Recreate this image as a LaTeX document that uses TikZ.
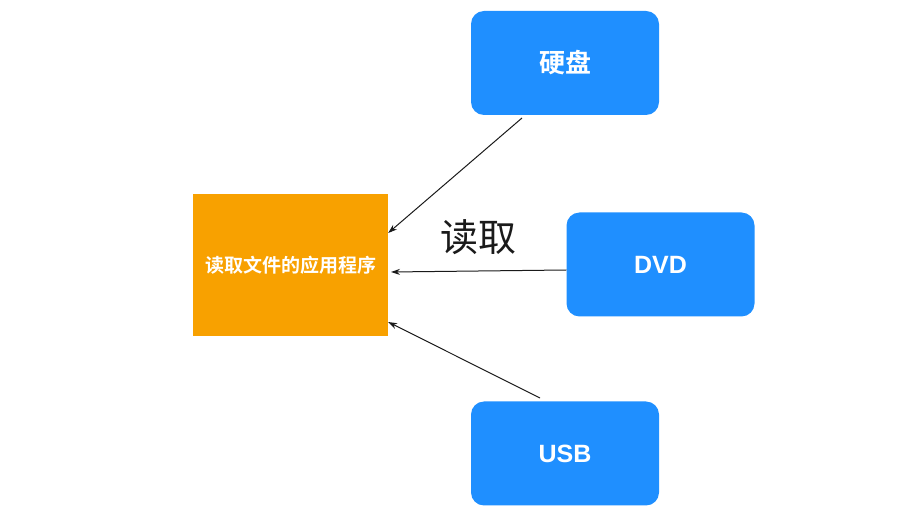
\documentclass[tikz,border=0pt]{standalone}
\usepackage{fontspec}
\setmainfont{Liberation Sans}
\newfontfamily\cjk{Noto Sans CJK SC}
\newfontfamily\cjkb{Noto Sans CJK SC Bold}
\usetikzlibrary{arrows.meta}
\definecolor{boxblue}{HTML}{1F8FFF}
\definecolor{boxorange}{HTML}{F8A100}
\definecolor{txtdark}{HTML}{1A1A1A}
\begin{document}
\begin{tikzpicture}[x=1pt,y=-1pt,
  bluebox/.style={fill=boxblue,draw=none,rounded corners=13pt,minimum width=188pt,minimum height=104pt,text=white,inner sep=0pt},
  conn/.style={draw=txtdark,line width=1pt,-{Stealth[length=9pt,width=6pt]}}]
\useasboundingbox (0,0) rectangle (911,526);
\node[fill=boxorange,minimum width=195pt,minimum height=142pt,inner sep=0pt,text=white,font=\cjkb\fontsize{19}{21}\selectfont] (app) at (290.5,265) {读取文件的应用程序};
\node[bluebox,font=\cjkb\fontsize{26}{28}\selectfont] (hd) at (565,63) {硬盘};
\node[bluebox,font=\bfseries\fontsize{25}{27}\selectfont] (dvd) at (660.5,264.5) {DVD};
\node[bluebox,font=\bfseries\fontsize{25}{27}\selectfont] (usb) at (565,453.5) {USB};
\coordinate (hdS) at (522,118);
\coordinate (usbS) at (540,398);
\draw[conn] (hdS) -- (app.east |- 0,233);
\draw[conn] (dvd.west |- 0,270) -- (391,272) coordinate (appM);
\draw[conn] (usbS) -- (app.east |- 0,322);
\node[font=\cjk\fontsize{38}{40}\selectfont,text=txtdark] (lbl) at (478,237) {读取};
\end{tikzpicture}
\end{document}
